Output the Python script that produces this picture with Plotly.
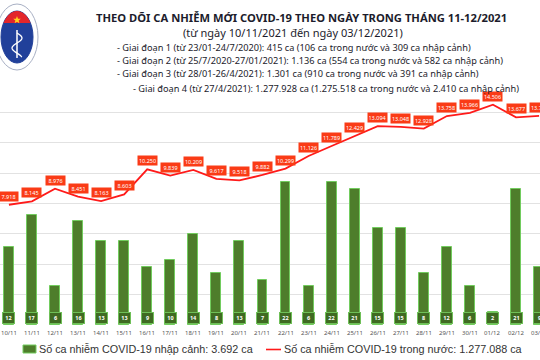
import numpy as np
import plotly.graph_objects as go

# ---------------- data ----------------
dates = ["10/11", "11/11", "12/11", "13/11", "14/11", "15/11", "16/11", "17/11",
         "18/11", "19/11", "20/11", "21/11", "22/11", "23/11", "24/11", "25/11",
         "26/11", "27/11", "28/11", "29/11", "30/11", "01/12", "02/12", "03/12"]
domestic = [7918, 8145, 8976, 8451, 8163, 8603, 10250, 9839, 10209, 9617, 9518, 9882,
            10299, 11126, 11789, 12429, 13094, 13048, 12928, 13758, 13966, 14506, 13677, 13776]
imported = [12, 17, 6, 16, 13, 13, 9, 10, 14, 8, 13, 7,
            22, 6, 22, 21, 15, 15, 8, 12, 6, 2, 21, 9]

title = "THEO DÕI CA NHIỄM MỚI COVID-19 THEO NGÀY TRONG THÁNG 11-12/2021"
subtitle = "(từ ngày 10/11/2021 đến ngày 03/12/2021)"
notes = [
    "- Giai đoạn 1 (từ 23/01-24/7/2020): 415 ca (106 ca trong nước và 309 ca nhập cảnh)",
    "- Giai đoạn 2 (từ 25/7/2020-27/01/2021): 1.136 ca (554 ca trong nước và 582 ca nhập cảnh)",
    "- Giai đoạn 3 (từ 28/01-26/4/2021): 1.301 ca (910 ca trong nước và 391 ca nhập cảnh)",
    "- Giai đoạn 4 (từ 27/4/2021): 1.277.928 ca (1.275.518 ca trong nước và 2.410 ca nhập cảnh)",
]
legend_bar = "Số ca nhiễm COVID-19 nhập cảnh: 3.692 ca"
legend_line = "Số ca nhiễm COVID-19 trong nước: 1.277.088 ca"

# ---------------- layout helpers ----------------
W, H = 540, 360
PT, PB = 82, 325  # plot top / bottom in pixels


def PX(px):
    return px / W


def PY(py):
    return (PB - py) / (PB - PT)


def fmt(v):
    return f"{v:,}".replace(",", ".")


GREEN = "#4e7d2b"
GREEN_EDGE = "#72cc5e"
RED = "#ff1a1a"
LABEL_RED = "#fa3b16"
FONT = "Noto Sans"

fig = go.Figure()
fig.add_trace(go.Bar(
    x=dates, y=imported, yaxis="y", width=0.43,
    marker=dict(color=GREEN, line=dict(color=GREEN_EDGE, width=1)),
    hoverinfo="skip",
))
fig.add_trace(go.Scatter(
    x=dates, y=domestic, yaxis="y2", mode="lines",
    line=dict(color=RED, width=1.8), hoverinfo="skip",
))

annotations = []
for d, v in zip(dates, imported):
    annotations.append(dict(
        x=d, y=0, xref="x", yref="y", text=f"<b>{v}</b>", showarrow=False,
        yanchor="bottom", yshift=1, width=9, height=8,
        font=dict(size=5.5, color="white", family=FONT),
        bgcolor="#3f6a22", bordercolor="#6fbf58", borderwidth=1, borderpad=1,
    ))
for d, v in zip(dates, domestic):
    annotations.append(dict(
        x=d, y=v, xref="x", yref="y2", text=fmt(v), showarrow=False,
        yanchor="bottom", yshift=3, width=17, height=7,
        font=dict(size=5.5, color="white", family=FONT),
        bgcolor=LABEL_RED, borderpad=1,
    ))
# date labels under the bars
for d in dates:
    annotations.append(dict(
        x=d, y=PY(333), xref="x", yref="paper", text=d, showarrow=False,
        xanchor="center", yanchor="middle",
        font=dict(size=6, color="#555555", family=FONT),
    ))

# titles
annotations.append(dict(xref="paper", yref="paper", x=PX(301), y=PY(17), text=f"<b>{title}</b>",
                        showarrow=False, xanchor="center", yanchor="middle",
                        font=dict(size=11.2, color="#1c1c2c", family=FONT)))
annotations.append(dict(xref="paper", yref="paper", x=PX(293), y=PY(33), text=subtitle,
                        showarrow=False, xanchor="center", yanchor="middle",
                        font=dict(size=11, color="#1c1c2c", family=FONT)))
note_y = [47, 60.5, 74, 88]
note_x = [115, 115, 115, 131]
for t, yy, xx in zip(notes, note_y, note_x):
    annotations.append(dict(xref="paper", yref="paper", x=PX(xx), y=PY(yy), text=t,
                            showarrow=False, xanchor="left", yanchor="middle",
                            font=dict(size=9.2, color="#1c1c2c", family=FONT)))

# legend
annotations.append(dict(xref="paper", yref="paper", x=PX(37), y=PY(349), text=legend_bar,
                        showarrow=False, xanchor="left", yanchor="middle",
                        font=dict(size=10.8, color="#333333", family="Liberation Sans")))
annotations.append(dict(xref="paper", yref="paper", x=PX(282), y=PY(349), text=legend_line,
                        showarrow=False, xanchor="left", yanchor="middle",
                        font=dict(size=10.8, color="#333333", family="Liberation Sans")))

shapes = [
    dict(type="rect", xref="paper", yref="paper", x0=PX(23), x1=PX(36), y0=PY(345), y1=PY(353),
         fillcolor=GREEN, line=dict(color=GREEN_EDGE, width=1)),
    dict(type="line", xref="paper", yref="paper", x0=PX(266), x1=PX(281), y0=PY(349.5), y1=PY(349.5),
         line=dict(color=RED, width=1.6)),
]

# logo (emblem) drawn with shapes
cx, cy = 17, 37
shapes.append(dict(type="circle", xref="paper", yref="paper",
                   x0=PX(cx - 21), x1=PX(cx + 21), y0=PY(cy - 33), y1=PY(cy + 33),
                   fillcolor="white", line=dict(color="#a8b0c4", width=1)))
shapes.append(dict(type="circle", xref="paper", yref="paper",
                   x0=PX(cx - 16), x1=PX(cx + 16), y0=PY(cy - 26), y1=PY(cy + 26),
                   fillcolor="#21409a", line=dict(color="#21409a", width=1)))
# red cap (top part of inner ellipse)
t = np.linspace(np.pi * 0.18, np.pi * 0.82, 20)
pts = [(cx + 16 * np.cos(a), cy - 26 * np.sin(a)) for a in t]
path = "M " + " L ".join(f"{PX(x):.5f},{PY(y):.5f}" for x, y in pts) + " Z"
shapes.append(dict(type="path", xref="paper", yref="paper", path=path,
                   fillcolor="#e3262b", line=dict(width=0)))
# star
star = []
for k in range(10):
    r = 4 if k % 2 == 0 else 1.7
    a = -np.pi / 2 + k * np.pi / 5
    star.append((cx + r * np.cos(a), 20 + r * np.sin(a)))
spath = "M " + " L ".join(f"{PX(x):.5f},{PY(y):.5f}" for x, y in star) + " Z"
shapes.append(dict(type="path", xref="paper", yref="paper", path=spath,
                   fillcolor="#ffd21f", line=dict(width=0)))
# staff + snake
shapes.append(dict(type="line", xref="paper", yref="paper", x0=PX(cx), x1=PX(cx), y0=PY(30), y1=PY(58),
                   line=dict(color="white", width=1.5)))
sn = [(cx + 5 * np.sin(s), 33 + s * 3.2) for s in np.linspace(0, 2.4 * np.pi, 25)]
snpath = "M " + " L ".join(f"{PX(x):.5f},{PY(y):.5f}" for x, y in sn)
shapes.append(dict(type="path", xref="paper", yref="paper", path=snpath,
                   line=dict(color="white", width=1.3)))

fig.update_layout(
    width=W, height=H,
    margin=dict(l=0, r=0, t=PT, b=H - PB, pad=0),
    paper_bgcolor="white", plot_bgcolor="white",
    showlegend=False, bargap=0,
    xaxis=dict(type="category", range=[-0.386, 23.04], showgrid=False, zeroline=False,
               showline=False, ticks="", showticklabels=False, fixedrange=True),
    yaxis=dict(range=[0, 37.4], showgrid=False, zeroline=False, showticklabels=False,
               fixedrange=True),
    yaxis2=dict(range=[0, 16000], overlaying="y", side="right", showticklabels=False,
                tickvals=list(range(0, 16000, 2000)), showgrid=True, gridcolor="#e2e2e2",
                gridwidth=1, zeroline=False, fixedrange=True),
    annotations=annotations,
    shapes=shapes,
)

fig.write_html("out.html", config={"displayModeBar": False},
               post_script="document.body.style.margin='0';document.body.style.padding='0';")
